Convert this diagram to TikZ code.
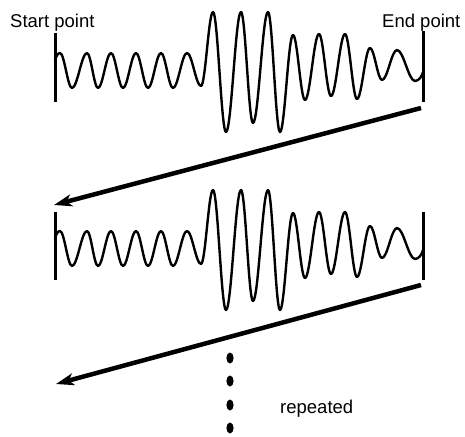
\documentclass[tikz,border=0pt]{standalone}
\usepackage{fontspec}
\setmainfont{Liberation Sans}
\usetikzlibrary{arrows.meta}
\begin{document}
\begin{tikzpicture}[x=1pt,y=-1pt,
  wave/.style={line width=2.4pt, line join=round, line cap=round},
  barline/.style={line width=3pt},
  bigarrow/.style={line width=4.5pt, -{Stealth[length=18pt,width=12pt,inset=5pt]}},
  lbl/.style={anchor=base west, inner sep=0pt, font=\fontsize{18.5}{22}\selectfont},
  dotmark/.style={fill=black}]
\useasboundingbox (0,0) rectangle (465,436);
% build the wave path from its extrema
\def\wavepath{}
\foreach \x/\y [remember=\x as \px (initially 60), remember=\y as \py (initially 53)] in
  {72/88,87/53,98/88,111/53,123/88,136/53,148/88,161/53,173/88,187/53,201/86,
   213/12,226/132,241/12,253/123,268/12,280/132,
   293/35,305/100,319/34,331/96,345/34,357/99,370/48,382/80,397/50,415/81}{
  \pgfmathsetmacro\ca{\px+0.364*(\x-\px)}
  \pgfmathsetmacro\cb{\x-0.364*(\x-\px)}
  \xdef\wavepath{\wavepath .. controls (\ca,\py) and (\cb,\y) .. (\x,\y)}
}
% first wave
\draw[barline] (55,33) -- (55,102);
\draw[barline] (423,31) -- (423,102);
\draw[wave] (55,61) .. controls (56,56) and (58,53) .. (60,53) \wavepath .. controls (419,81) and (422,76) .. (423,72);
% second wave
\begin{scope}[shift={(0,178)}]
\draw[barline] (55,34) -- (55,102);
\draw[barline] (423,34) -- (423,102);
\draw[wave] (55,61) .. controls (56,56) and (58,53) .. (60,53) \wavepath .. controls (419,81) and (422,76) .. (423,72);
\end{scope}
% arrows
\coordinate (a1s) at (421,108);
\coordinate (a1e) at (54,205);
\coordinate (a2s) at (421,285);
\coordinate (a2e) at (56,384);
\draw[bigarrow] (a1s) -- (a1e);
\draw[bigarrow] (a2s) -- (a2e);
% dots
\foreach \yy in {358,381,405,428}
  \fill[dotmark] (230,\yy) ellipse [x radius=3.6pt, y radius=5.5pt];
% labels
\node[lbl] (start) at (10,28) {Start point};
\node[lbl] (end) at (382,28) {End point};
\node[lbl] (rep) at (280,413) {repeated};
\end{tikzpicture}
\end{document}
